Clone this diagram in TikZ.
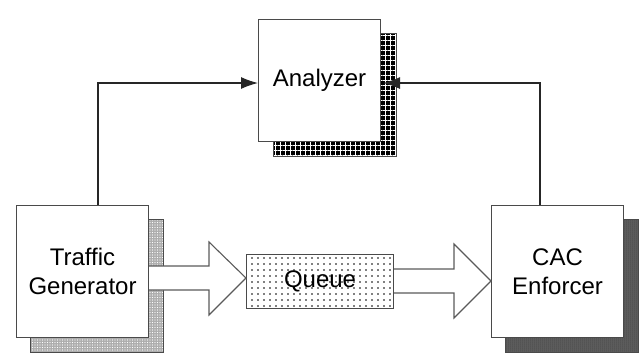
\documentclass[tikz,border=0pt]{standalone}
\usepackage{fontspec}
\setmainfont{Liberation Sans}
\usetikzlibrary{arrows.meta,patterns.meta}
\definecolor{edge}{HTML}{4A4A4A}
\definecolor{fatedge}{HTML}{5A5A5A}
\begin{document}
\begin{tikzpicture}[x=1pt,y=-1pt,
  box/.style={draw=edge,line width=1.1pt,fill=white,minimum width=122pt,minimum height=122pt,inner sep=0pt,
    font=\fontsize{24}{29}\selectfont,align=center,anchor=north west},
  shadowbase/.style={draw=edge,line width=0.8pt},
  conn/.style={draw=black!85,line width=1.2pt,-{Latex[length=17pt,width=12pt]}},
  fat/.style={draw=fatedge,line width=1.1pt,fill=white,line join=miter}]
\useasboundingbox (0,0) rectangle (644,360);

% shadows
\fill[black] (273,33) rectangle (396,156);
\fill[pattern={Hatch[angle=0,distance=5pt,line width=0.9pt]},pattern color=white] (273,33) rectangle (396,156);
\draw[shadowbase] (273,33) rectangle (396,156);

\fill[black!32] (30,219) rectangle (163,352);
\fill[pattern={Dots[distance=2.5pt,radius=0.55pt]},pattern color=white] (30,219) rectangle (163,352);
\draw[shadowbase] (30,219) rectangle (163,352);

\fill[black!62] (505,219) rectangle (638,352);
\fill[pattern={Dots[distance=2pt,radius=0.5pt]},pattern color=black!85] (505,219) rectangle (638,352);
\draw[shadowbase] (505,219) rectangle (638,352);

% boxes
\node[box,minimum width=122pt,minimum height=122pt] (an) at (258,19) {Analyzer};
\node[box,minimum width=132pt,minimum height=132pt] (tg) at (16,205) {Traffic\\Generator};
\node[box,minimum width=132pt,minimum height=132pt] (cac) at (491,205) {CAC\\Enforcer};

% queue
\fill[white] (246,254) rectangle (393,308);
\fill[pattern={Dots[distance=6pt,radius=0.8pt]},pattern color=black] (246,254) rectangle (393,308);
\node[draw=edge,line width=1.1pt,minimum width=147pt,minimum height=54pt,inner sep=0pt,anchor=north west,
  font=\fontsize{24}{29}\selectfont] (q) at (246,254) {Queue};

% fat arrows
\path[fat] (tg.east |- 0,266) -- (209,266) -- (209,242) -- (q.west |- 0,278) -- (209,315) -- (209,290) -- (tg.east |- 0,290);
\path[fat] (q.east |- 0,269) -- (454,269) -- (454,244) -- (cac.west |- 0,281) -- (454,318) -- (454,293) -- (q.east |- 0,293);

% connectors
\coordinate (tl) at (98,83);
\coordinate (tr) at (540,83);
\draw[conn] (tg.north -| tl) -- (tl) -- (an.west |- tl);
\draw[conn] (cac.north -| tr) -- (tr) -- ([xshift=2pt]an.east |- tr);
\end{tikzpicture}
\end{document}
